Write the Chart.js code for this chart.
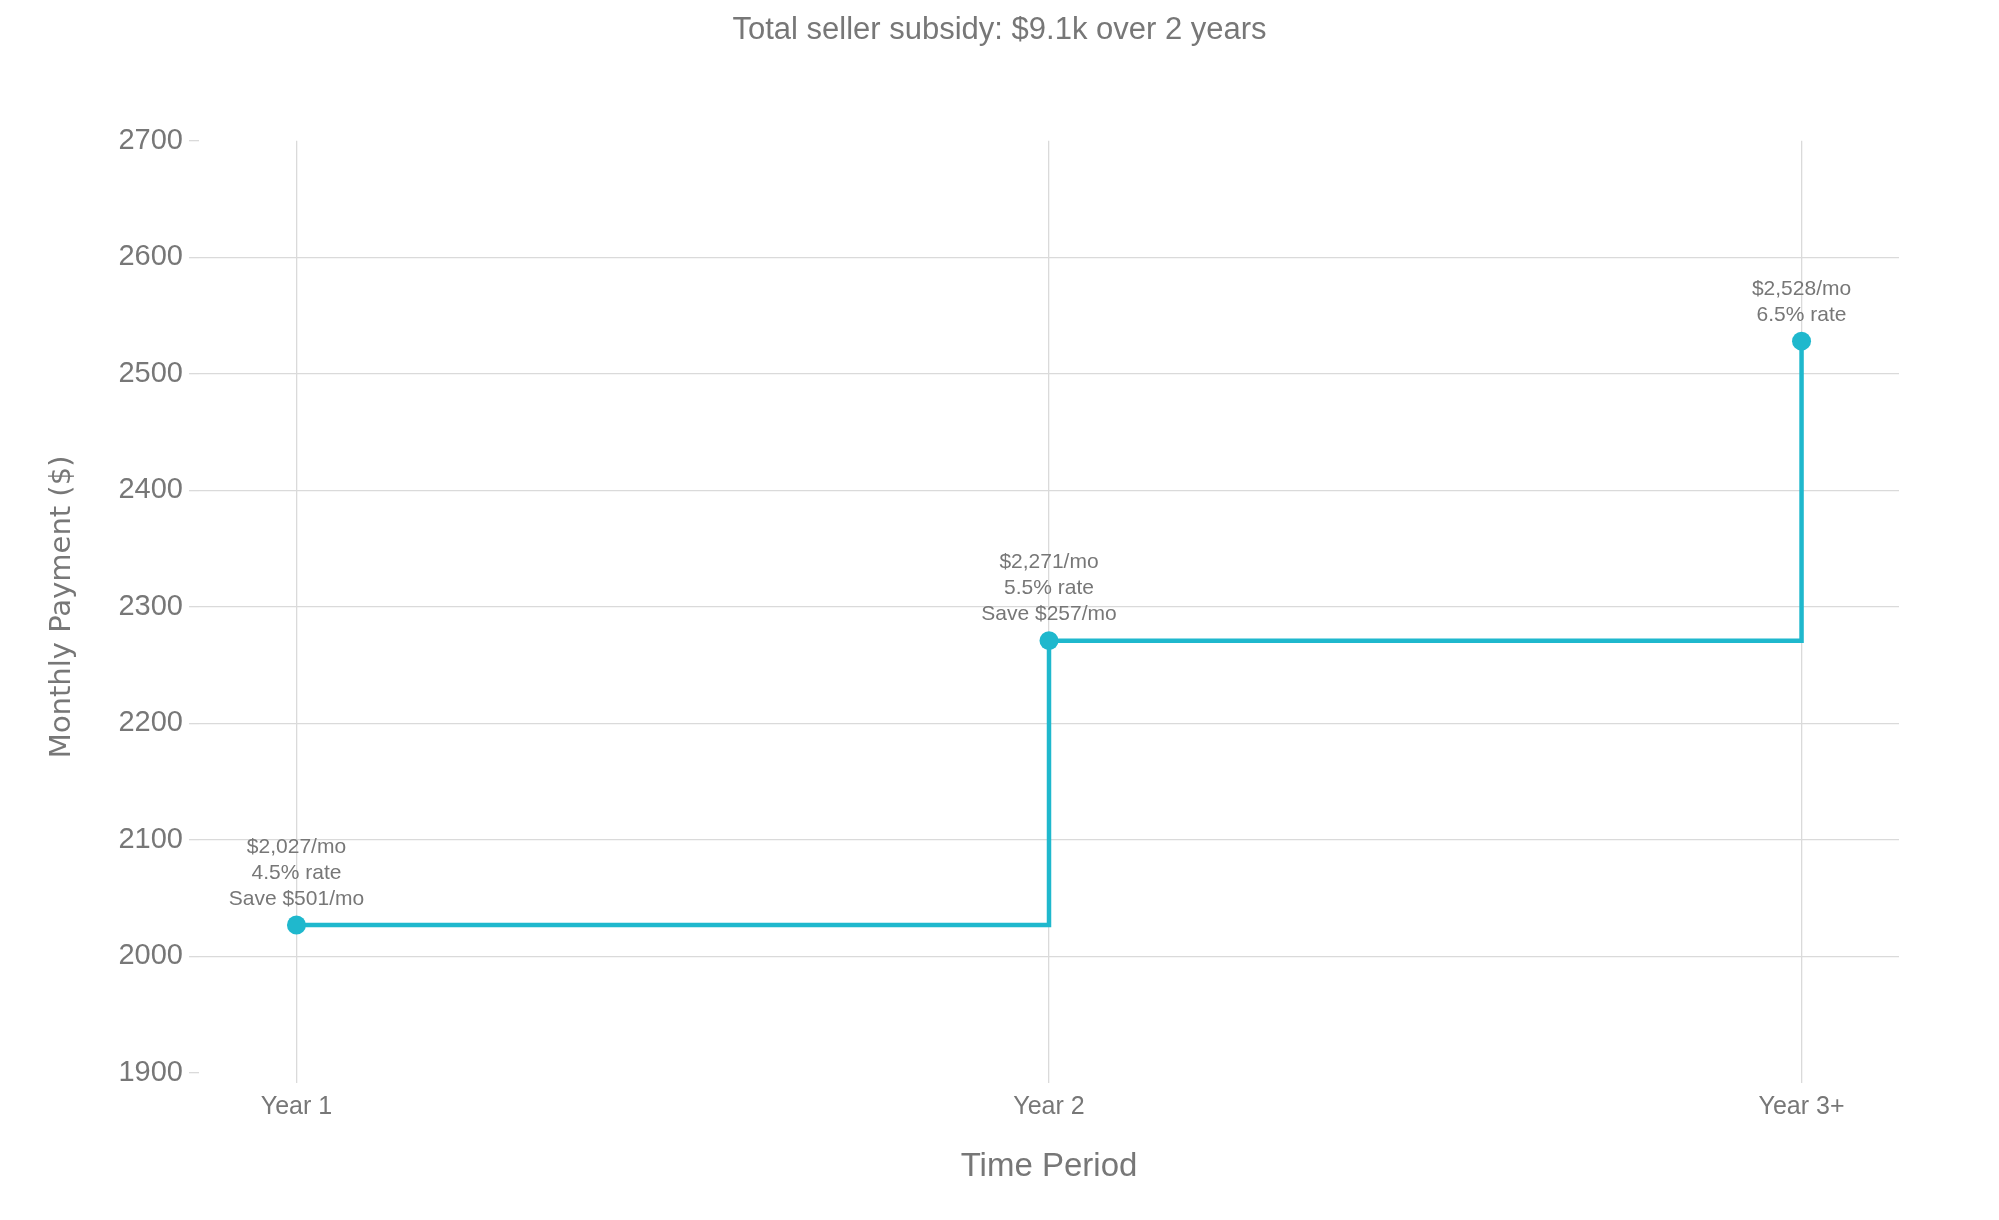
<!DOCTYPE html>
<html>
<head>
<meta charset="utf-8">
<title>Monthly payment by period</title>
<script src="https://cdn.jsdelivr.net/npm/chart.js@4.4.1/dist/chart.umd.min.js"></script>
<style>
    html, body { margin: 0; padding: 0; background: #ffffff; }
    #wrap { width: 1999px; height: 1220px; position: relative; }
</style>
</head>
<body>
<div id="wrap"><canvas id="payChart"></canvas></div>
<script>
// Chart data
const periods = ['Year 1', 'Year 2', 'Year 3+'];
const payments = [2027, 2271, 2528];
const rates = ['4.5', '5.5', '6.5'];
const savings = [501, 257, null];
const yMin = 1900;
const yMax = 2700;
const yStep = 100;

const lineColor = '#1FB8CD';
const textGray = '#777777';
const gridGray = '#dadada';
const baseFont = '"Liberation Sans", Arial, Helvetica, sans-serif';

// Labels above each point (payment, rate, savings)
const pointLabels = {
    id: 'pointLabels',
    afterDatasetsDraw(chart) {
        const ctx = chart.ctx;
        const meta = chart.getDatasetMeta(0);
        ctx.save();
        ctx.font = '21px ' + baseFont;
        ctx.fillStyle = textGray;
        ctx.textAlign = 'center';
        ctx.textBaseline = 'middle';
        meta.data.forEach((pt, i) => {
            const lines = ['$' + payments[i].toLocaleString('en-US') + '/mo', rates[i] + '% rate'];
            if (savings[i]) lines.push('Save $' + savings[i] + '/mo');
            lines.forEach((txt, j) => {
                ctx.fillText(txt, pt.x, pt.y - 26 * (lines.length - j));
            });
        });
        ctx.restore();
    }
};

const ctx = document.getElementById('payChart').getContext('2d');

const payChart = new Chart(ctx, {
    type: 'line',
    data: {
        datasets: [{
            data: payments.map((v, i) => ({ x: i, y: v })),
            borderColor: lineColor,
            backgroundColor: lineColor,
            borderWidth: 4.5,
            stepped: 'before',
            fill: false,
            pointRadius: 9.5,
            pointHoverRadius: 9.5,
            pointBorderWidth: 0,
            pointBackgroundColor: lineColor
        }]
    },
    options: {
        responsive: true,
        maintainAspectRatio: false,
        animation: false,
        layout: { padding: 0 },
        plugins: {
            legend: { display: false },
            tooltip: { enabled: false },
            title: {
                display: true,
                text: 'Total seller subsidy: $9.1k over 2 years',
                color: textGray,
                font: { family: baseFont, size: 31, weight: 'normal' },
                padding: { top: 12, bottom: 91.5 }
            }
        },
        scales: {
            x: {
                type: 'linear',
                min: -0.1295,
                max: 2.1295,
                afterBuildTicks: (scale) => {
                    scale.ticks = periods.map((p, i) => ({ value: i }));
                },
                afterFit: (scale) => { scale.height = 147; },
                border: { display: false },
                grid: {
                    color: gridGray,
                    tickColor: gridGray,
                    lineWidth: 1.3,
                    tickLength: 10,
                    drawTicks: true
                },
                ticks: {
                    color: textGray,
                    font: { family: baseFont, size: 25 },
                    padding: 9,
                    maxRotation: 0,
                    callback: (v) => periods[v]
                },
                title: {
                    display: true,
                    text: 'Time Period',
                    color: textGray,
                    font: { family: baseFont, size: 33 },
                    padding: { top: 0, bottom: 33 }
                }
            },
            y: {
                min: yMin,
                max: yMax,
                afterFit: (scale) => { scale.width = 199; },
                border: { display: false },
                grid: {
                    color: (c) => (c.tick && (c.tick.value === yMin || c.tick.value === yMax)) ? 'rgba(0,0,0,0)' : gridGray,
                    tickColor: gridGray,
                    lineWidth: 1.3,
                    tickLength: 10,
                    drawTicks: true
                },
                ticks: {
                    stepSize: yStep,
                    color: textGray,
                    font: { family: baseFont, size: 29 },
                    padding: 6,
                    callback: (v) => String(v)
                },
                title: {
                    display: true,
                    text: 'Monthly Payment ($)',
                    color: textGray,
                    font: { family: '"DejaVu Sans", Verdana, sans-serif', size: 29 },
                    padding: { top: 45, bottom: 0 }
                }
            },
            // empty right margin so the title stays centred on the whole canvas
            yRight: {
                position: 'right',
                display: true,
                afterFit: (scale) => { scale.width = 100; },
                border: { display: false },
                grid: { display: false, drawTicks: false },
                ticks: { display: false }
            }
        }
    },
    plugins: [pointLabels]
});
</script>
</body>
</html>
